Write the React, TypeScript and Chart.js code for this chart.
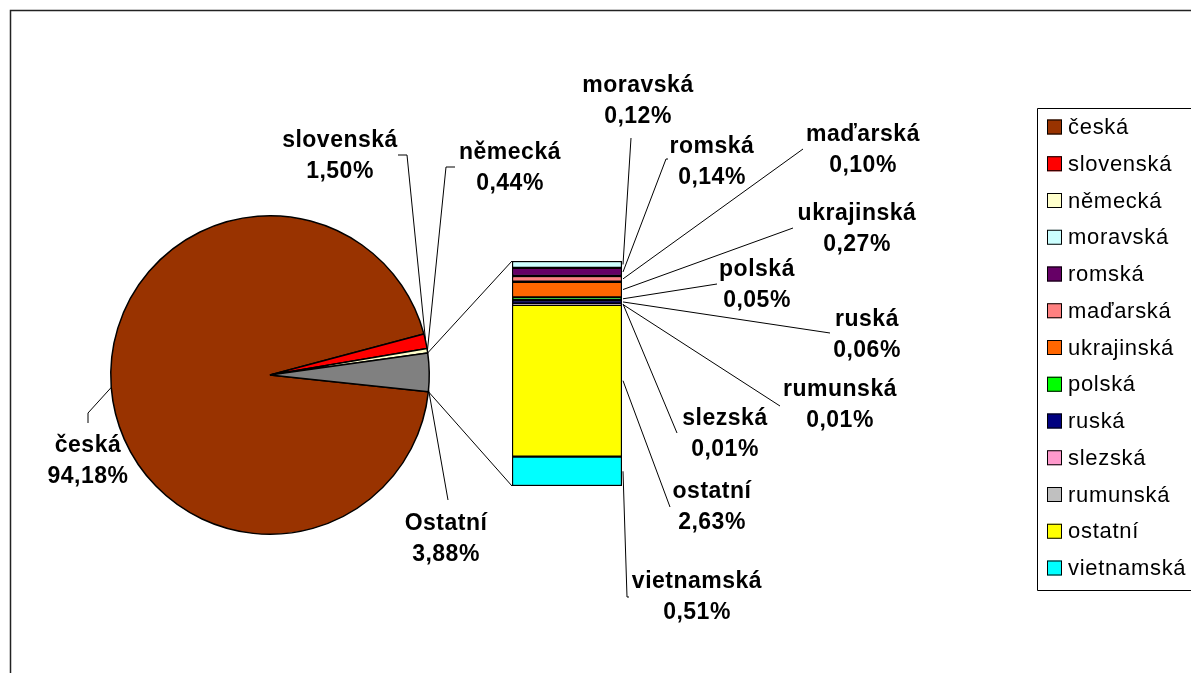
import React, { useEffect, useRef } from "react";
import { Chart, registerables } from "chart.js";
Chart.register(...registerables);

// ---- Data ----
const pieLabels = ["česká", "slovenská", "německá", "Ostatní"];
const pieValues = [94.18, 1.5, 0.44, 3.88];
const pieColors = ["#993300", "#FF0000", "#FFFFCC", "#808080"];

const barLabels = ["moravská", "romská", "maďarská", "ukrajinská", "polská", "ruská", "slezská", "rumunská", "ostatní", "vietnamská"];
const barValues = [0.12, 0.14, 0.1, 0.27, 0.05, 0.06, 0.01, 0.01, 2.63, 0.51];
const barColors = ["#CCFFFF", "#660066", "#FF8080", "#FF6600", "#00FF00", "#000080", "#FF99CC", "#C0C0C0", "#FFFF00", "#00FFFF"];

const legendLabels = ["česká", "slovenská", "německá", "moravská", "romská", "maďarská", "ukrajinská", "polská", "ruská", "slezská", "rumunská", "ostatní", "vietnamská"];
const legendColors = ["#993300", "#FF0000", "#FFFFCC", "#CCFFFF", "#660066", "#FF8080", "#FF6600", "#00FF00", "#000080", "#FF99CC", "#C0C0C0", "#FFFF00", "#00FFFF"];

// ---- Layout (label placement, leader paths) ----
type LL = { x: number; y: number; path: [number, number][]; frac?: number };
const pieLabelLayout: LL[] = [
  { x: 88, y: 446, path: [[88, 413], [88, 423]] },
  { x: 340, y: 141, path: [[407, 155], [398, 155]] },
  { x: 510, y: 153, path: [[446, 167], [455, 167]] },
  { x: 446, y: 524, path: [[448, 500]], frac: 0.95 },
];
const barLabelLayout: LL[] = [
  { x: 638, y: 86, path: [[631, 138]] },
  { x: 712, y: 147, path: [[666, 159], [668, 159]] },
  { x: 863, y: 135, path: [[803, 149]] },
  { x: 857, y: 214, path: [[793, 228]] },
  { x: 757, y: 270, path: [[717, 284]] },
  { x: 867, y: 320, path: [[830, 333]] },
  { x: 725, y: 419, path: [[677, 433]] },
  { x: 840, y: 390, path: [[780, 406]] },
  { x: 712, y: 492, path: [[670, 507]] },
  { x: 697, y: 582, path: [[627, 597], [629, 597]] },
];

const W = 1191;
const H = 673;
const FONT = '"Liberation Sans", Arial, sans-serif';
const fmt = (v: number) => v.toFixed(2).replace(".", ",") + "%";

export default function App() {
  const pieRef = useRef<HTMLCanvasElement>(null);
  const barRef = useRef<HTMLCanvasElement>(null);

  useEffect(() => {
    const pie = new Chart(pieRef.current!, {
      type: "pie",
      data: {
        labels: pieLabels,
        datasets: [
          {
            data: pieValues,
            backgroundColor: pieColors,
            borderColor: "#000",
            borderWidth: 1.5,
          },
        ],
      },
      options: {
        responsive: false,
        animation: false,
        devicePixelRatio: 1,
        rotation: 96,
        layout: { padding: { left: 110, top: 215, right: W - 430, bottom: H - 535 } },
        plugins: { legend: { display: false }, tooltip: { enabled: false } },
      },
    });

    const total = barValues.reduce((a, b) => a + b, 0);

    const overlay = {
      id: "overlay",
      afterDraw(chart: any) {
        const ctx = chart.ctx as CanvasRenderingContext2D;
        ctx.save();
        // frame
        ctx.strokeStyle = "#222";
        ctx.lineWidth = 1.5;
        ctx.beginPath();
        ctx.moveTo(10.5, H);
        ctx.lineTo(10.5, 10.5);
        ctx.lineTo(W, 10.5);
        ctx.stroke();

        const pieMeta = pie.getDatasetMeta(0);
        const barMetas = barLabels.map((_, i) => chart.getDatasetMeta(i));
        const firstBar: any = barMetas[0].data[0];
        const lastBar: any = barMetas[barMetas.length - 1].data[0];
        const barLeft = firstBar.x - firstBar.width / 2;
        const barRight = firstBar.x + firstBar.width / 2;
        const barTop = Math.min(firstBar.y, firstBar.base);
        const barBottom = Math.max(lastBar.y, lastBar.base);

        ctx.strokeStyle = "#000";
        ctx.lineWidth = 1;

        // connector lines from "Ostatní" slice to the bar
        const oArc: any = pieMeta.data[3];
        const p1 = [oArc.x + oArc.outerRadius * Math.cos(oArc.startAngle), oArc.y + oArc.outerRadius * Math.sin(oArc.startAngle)];
        const p2 = [oArc.x + oArc.outerRadius * Math.cos(oArc.endAngle), oArc.y + oArc.outerRadius * Math.sin(oArc.endAngle)];
        ctx.beginPath();
        ctx.moveTo(p1[0], p1[1]);
        ctx.lineTo(barLeft, barTop);
        ctx.moveTo(p2[0], p2[1]);
        ctx.lineTo(barLeft, barBottom);
        ctx.stroke();

        const drawLabel = (name: string, v: number, l: LL, ax: number, ay: number) => {
          ctx.beginPath();
          ctx.moveTo(ax, ay);
          l.path.forEach(([x, y]) => ctx.lineTo(x, y));
          ctx.stroke();
          ctx.fillStyle = "#000";
          ctx.font = `bold 23px ${FONT}`;
          (ctx as any).letterSpacing = "0.5px";
          ctx.textAlign = "center";
          ctx.textBaseline = "middle";
          ctx.fillText(name, l.x, l.y);
          ctx.fillText(fmt(v), l.x, l.y + 31);
        };

        // pie labels
        pieLabels.forEach((name, i) => {
          const a: any = pieMeta.data[i];
          const l = pieLabelLayout[i];
          const f = l.frac ?? 0.5;
          const ang = a.startAngle + f * (a.endAngle - a.startAngle);
          drawLabel(name, pieValues[i], l, a.x + a.outerRadius * Math.cos(ang), a.y + a.outerRadius * Math.sin(ang));
        });

        // bar labels
        barLabels.forEach((name, i) => {
          const el: any = barMetas[i].data[0];
          drawLabel(name, barValues[i], barLabelLayout[i], barRight + 1, (el.y + el.base) / 2);
        });

        // legend
        const lx = 1037.5;
        const ly = 108.5;
        ctx.lineWidth = 1;
        ctx.beginPath();
        ctx.rect(lx, ly, 200, 482);
        ctx.stroke();
        ctx.font = `22px ${FONT}`;
        (ctx as any).letterSpacing = "0.7px";
        ctx.textAlign = "left";
        ctx.textBaseline = "middle";
        legendLabels.forEach((name, i) => {
          const cy = 127 + i * 36.75;
          ctx.fillStyle = legendColors[i];
          ctx.fillRect(1047, cy - 7.5, 15, 15);
          ctx.strokeRect(1047.5, cy - 7, 14, 14);
          ctx.fillStyle = "#000";
          ctx.fillText(name, 1068, cy + 1);
        });
        ctx.restore();
      },
    };

    const bar = new Chart(barRef.current!, {
      type: "bar",
      data: {
        labels: ["Ostatní"],
        datasets: barLabels.map((name, i) => ({
          label: name,
          data: [barValues[i]],
          backgroundColor: barColors[i],
          borderColor: "#000",
          borderWidth: 1.5,
          borderSkipped: false,
          barPercentage: 1,
          categoryPercentage: 1,
        })),
      },
      options: {
        responsive: false,
        animation: false,
        devicePixelRatio: 1,
        layout: { padding: { left: 512, right: W - 622, top: 261, bottom: H - 486 } },
        scales: {
          x: { stacked: true, display: false },
          y: { stacked: true, display: false, reverse: true, min: 0, max: total },
        },
        plugins: { legend: { display: false }, tooltip: { enabled: false } },
      },
      plugins: [overlay],
    });

    return () => {
      bar.destroy();
      pie.destroy();
    };
  }, []);

  return (
    <div style={{ position: "absolute", left: 0, top: 0, width: W, height: H, background: "#fff", overflow: "hidden" }}>
      <canvas ref={pieRef} width={W} height={H} style={{ position: "absolute", left: 0, top: 0 }} />
      <canvas ref={barRef} width={W} height={H} style={{ position: "absolute", left: 0, top: 0 }} />
    </div>
  );
}
